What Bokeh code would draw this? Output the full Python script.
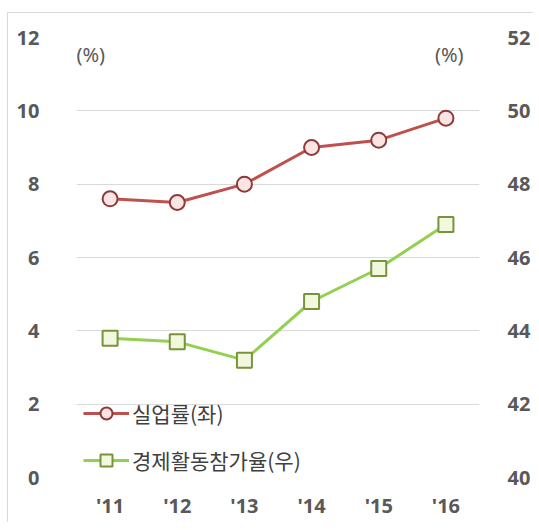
from bokeh.plotting import figure
from bokeh.models import Range1d, LinearAxis, FixedTicker, Label, Legend, LegendItem, FactorRange
from bokeh.embed import file_html
from bokeh.resources import INLINE

years = ["'11", "'12", "'13", "'14", "'15", "'16"]
unemployment = [7.6, 7.5, 8.0, 9.0, 9.2, 9.8]
participation = [43.8, 43.7, 43.2, 44.8, 45.7, 46.9]
left_ticks = [0, 2, 4, 6, 8, 10, 12]
right_ticks = [40, 42, 44, 46, 48, 50, 52]
label_unemp = "실업률(좌)"
label_part = "경제활동참가율(우)"

TXT = "#595959"
NUM_FONT = "Noto Sans"
KR_FONT = "Noto Sans CJK KR"

p = figure(x_range=FactorRange(*years), y_range=Range1d(0, 12),
           frame_width=403, frame_height=440,
           min_border_left=68, min_border_right=52, min_border_top=24, min_border_bottom=45,
           output_backend="svg", toolbar_location=None,
           styles={"border-top": "1px solid #d9d9d9", "border-left": "1px solid #d9d9d9",
                   "margin-top": "12px", "margin-left": "7px"})
p.outline_line_color = None
p.extra_y_ranges = {"right": Range1d(40, 52)}

p.xgrid.grid_line_color = None
p.ygrid.grid_line_color = "#d9d9d9"
p.ygrid.grid_line_width = 1
p.yaxis.ticker = FixedTicker(ticks=left_ticks)

raxis = LinearAxis(y_range_name="right", ticker=FixedTicker(ticks=right_ticks))
p.add_layout(raxis, "right")

for ax in [p.xaxis[0], p.yaxis[0], raxis]:
    ax.axis_line_color = None
    ax.major_tick_line_color = None
    ax.minor_tick_line_color = None
    ax.major_label_text_color = TXT
    ax.major_label_text_font = NUM_FONT
    ax.major_label_text_font_style = "bold"
    ax.major_label_text_font_size = "20px"
p.yaxis[0].major_label_standoff = 31
raxis.major_label_standoff = 22
p.xaxis[0].major_label_standoff = 8

r1 = p.line(years, unemployment, line_color="#C0504D", line_width=3)
s1 = p.scatter(years, unemployment, marker="circle", size=15, line_color="#8C3B3A",
               line_width=2, fill_color="#FBE4E4")
r2 = p.line(years, participation, line_color="#92D050", line_width=3, y_range_name="right")
s2 = p.scatter(years, participation, marker="square", size=15, line_color="#77933C",
               line_width=2, fill_color="#F1F8DE", y_range_name="right")

legend = Legend(items=[LegendItem(label=label_unemp, renderers=[r1, s1]),
                       LegendItem(label=label_part, renderers=[r2, s2])],
                location=(7, 2), orientation="vertical",
                glyph_width=46, glyph_height=30, label_height=30, spacing=17,
                padding=0, margin=0, label_standoff=3,
                label_text_font=KR_FONT, label_text_font_size="21px",
                label_text_color="#404040",
                background_fill_alpha=0, border_line_color=None)
p.add_layout(legend, "center")

p.add_layout(Label(x=0, y=12, text="(%)", text_align="left", text_baseline="top",
                   x_offset=0, y_offset=-3, text_font=NUM_FONT, text_font_size="20px",
                   text_color=TXT))
p.add_layout(Label(x=6, y=12, text="(%)", text_align="right", text_baseline="top",
                   x_offset=-16, y_offset=-3, text_font=NUM_FONT, text_font_size="20px",
                   text_color=TXT))

open("out.html", "w").write(file_html(p, INLINE))
